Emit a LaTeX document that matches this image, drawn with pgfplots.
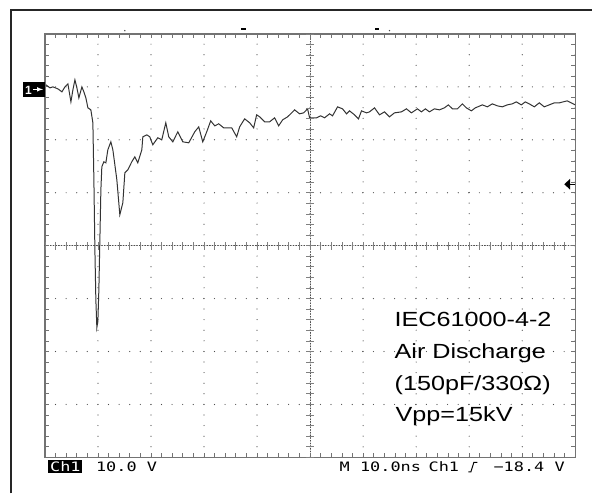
\documentclass[border=0pt]{standalone}
\usepackage{pgfplots}
\pgfplotsset{compat=1.18}
\usepackage{fontspec}
\setmainfont{Liberation Sans}
\newfontfamily\scopefont{DejaVu Sans Mono}

\begin{document}
\begin{tikzpicture}

\begin{axis}[
    at={(45pt,36pt)}, anchor=south west,
    scale only axis, width=531pt, height=424pt,
    xmin=0, xmax=100, ymin=-70, ymax=10,
    xtick={0,10,...,100}, ytick={-70,-60,...,10},
    minor tick num=4,
    xticklabels={}, yticklabels={},
    tick align=inside,
    major tick length=4pt, minor tick length=4pt,
    tick style={black!55, line width=0.8pt},
    axis line style={black!55, line width=1.3pt},
    grid=major,
    major grid style={black!70, line width=1.2pt, line cap=round, dash pattern=on 0pt off 10.61pt},
    extra x ticks={50}, extra y ticks={-30},
    extra x tick labels={}, extra y tick labels={},
    extra tick style={grid=major, major grid style={black!70, line width=0.9pt, dash pattern=on 0.9pt off 1.8pt}},
]
    % Ch1 trace: time in ns, voltage in V (10 V/div, 10 ns/div)
    \addplot[black!80, line width=1pt] coordinates {
        (0.19,0.38) (0.94,-0.19) (1.51,0.00) (2.45,-0.38) (3.20,-0.94)
        (3.77,0.00) (4.33,0.57) (4.90,-2.83) (5.27,-0.57) (5.65,1.32)
        (6.03,-0.19) (6.40,-2.08) (6.97,0.00) (7.34,-0.94) (7.72,-2.08)
        (8.10,-3.96) (8.66,-4.34) (9.04,-6.79) (9.23,-17.55) (9.42,-30.75)
        (9.60,-40.19) (9.79,-45.47) (9.98,-44.34) (10.17,-38.30) (10.36,-28.87)
        (10.55,-19.43) (10.73,-15.09) (11.11,-14.15) (11.49,-14.34) (11.86,-11.89)
        (12.43,-10.38) (12.81,-11.89) (13.56,-17.55) (14.12,-24.15) (14.69,-21.89)
        (15.07,-16.23) (15.63,-15.66) (16.38,-14.15) (16.95,-13.21) (17.51,-14.34)
        (18.27,-11.89) (18.46,-9.43) (19.21,-9.06) (19.77,-9.43) (20.34,-10.94)
        (21.28,-9.62) (22.03,-10.00) (22.79,-6.79) (23.35,-9.43) (24.11,-10.38)
        (25.05,-8.49) (25.99,-10.38) (27.12,-10.57) (28.25,-8.49) (29.00,-7.55)
        (29.76,-10.38) (30.51,-8.49) (31.26,-6.42) (32.02,-7.36) (32.77,-6.98)
        (33.71,-7.74) (35.22,-7.74) (36.16,-9.43) (36.72,-7.55) (37.66,-6.04)
        (38.61,-6.79) (39.36,-7.74) (39.92,-5.28) (40.49,-5.66) (41.43,-6.60)
        (42.37,-6.60) (43.31,-5.85) (44.07,-7.36) (44.82,-6.23) (45.76,-5.66)
        (46.52,-4.91) (47.08,-4.34) (48.02,-5.09) (48.78,-4.91) (49.53,-4.15)
        (49.91,-5.85) (51.22,-5.85) (51.98,-5.47) (52.73,-5.85) (53.67,-5.09)
        (54.24,-5.47) (55.18,-3.77) (56.12,-4.15) (56.87,-5.09) (57.44,-4.53)
        (58.38,-5.28) (59.13,-6.04) (59.70,-4.53) (60.64,-4.91) (61.21,-4.72)
        (62.15,-3.96) (63.09,-5.28) (64.03,-4.72) (64.97,-5.66) (65.91,-4.91)
        (67.23,-4.72) (68.17,-4.15) (69.11,-4.91) (70.24,-4.15) (71.00,-4.72)
        (71.75,-4.15) (72.50,-4.72) (73.45,-4.15) (74.39,-4.34) (75.33,-3.96)
        (76.08,-3.40) (76.84,-4.15) (77.78,-4.15) (78.72,-3.21) (79.47,-3.96)
        (80.41,-4.53) (81.17,-3.96) (82.49,-3.40) (83.43,-3.77) (84.37,-3.21)
        (85.31,-3.58) (86.25,-3.77) (87.19,-3.40) (88.14,-3.21) (88.89,-2.83)
        (89.83,-3.40) (90.58,-2.83) (91.34,-3.21) (92.28,-3.77) (93.22,-3.02)
        (94.16,-3.77) (95.10,-3.40) (96.05,-3.02) (96.99,-3.02) (97.74,-2.83)
        (98.49,-2.64) (99.25,-3.02) (100.0,-3.40)
    };
\end{axis}

\begin{scope}[x=1pt, y=1pt]
% outer frame of the screen shot
\draw[black!85, line width=1.6pt] (11,0) -- (11,484) -- (593,484);

% cross bars on the centre lines
\foreach \i in {0,...,50} \draw[black!50, line width=0.8pt] ({45+10.62*\i},244) -- ++(0,8);
\foreach \i in {0,...,40} \draw[black!50, line width=0.8pt] (306.5,{36+10.6*\i}) -- ++(8,0);

% channel 1 ground marker
\fill[black] (23,397) rectangle (45,412);
\node[white, anchor=base west, inner sep=0, font=\bfseries\fontsize{12}{14}\selectfont] at (25,399.5) {1};
\draw[white, line width=1pt, -latex] (33,404.5) -- (43,404.5);

% trigger level marker
\fill[black] (565,309.5) -- (571,315) -- (571,304) -- cycle;
\draw[black, line width=1pt] (571,309.5) -- (576,309.5);

% small markers above the graticule
\fill[black] (241,463.5) rectangle (246,465.5);
\fill[black] (375,463.5) rectangle (380,465.5);
\fill[black!70] (125,463.3) circle (0.8);
\fill[black!70] (390,463.3) circle (0.8);

% annotation
\begin{scope}[every node/.style={anchor=base west, inner sep=0, font=\fontsize{20.5}{24}\selectfont}]
\node at (395,166.7) {\scalebox{1.23}[1]{IEC61000-4-2}};
\node at (395,135) {\scalebox{1.23}[1]{Air Discharge}};
\node at (395,103.3) {\scalebox{1.23}[1]{(150pF/330Ω)}};
\node at (396,71.6) {\scalebox{1.23}[1]{Vpp=15kV}};
\end{scope}

% status line
\fill[black] (48,20) rectangle (82,33);
\begin{scope}[every node/.style={anchor=base west, inner sep=0, font=\scopefont\fontsize{13}{15}\selectfont}]
\node[white] at (50,22) {\scalebox{1.3}[1]{Ch1}};
\node at (96,22) {\scalebox{1.3}[1]{10.0 V}};
\node at (340,22) {\scalebox{1.3}[1]{M 10.0ns}};
\node at (429,22) {\scalebox{1.3}[1]{Ch1}};
\node at (494,22) {\scalebox{1.3}[1]{−18.4 V}};
\end{scope}
\draw[black, line width=1pt] (469,21.5) -- (471.5,21.5) -- (474.5,31) -- (478,31);

\path (0,0) rectangle (593,494);
\end{scope}
\end{tikzpicture}
\end{document}
